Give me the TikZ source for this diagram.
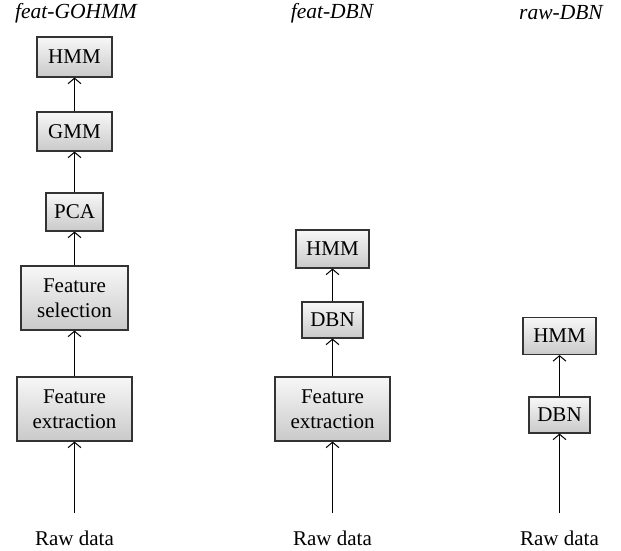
\documentclass[tikz,border=0pt]{standalone}
\usepackage{fontspec}
\setmainfont{Liberation Serif}
\usepackage{tikz}
\usetikzlibrary{arrows.meta, positioning}
\tikzstyle{block} = [draw=black!80, line width=1.1pt, top color=gray!6, bottom color=gray!42, align=center, inner sep=0pt, font=\fontsize{21}{25}\selectfont]
\tikzstyle{arrow} = [line width=1pt,-{Straight Barb[length=5.5pt,width=13pt]}]
\tikzstyle{title} = [font=\fontsize{21.5}{24}\selectfont\itshape]
\tikzstyle{input} = [font=\fontsize{21}{24}\selectfont]

\begin{document}
\begin{tikzpicture}[x=1pt, y=-1pt]
    \useasboundingbox (0,0) rectangle (621,550);

    % feat-GOHMM
    \node[title] (t1) at (76,13) {feat-GOHMM};
    \node[block, minimum width=75pt, minimum height=40pt] (hmmA) at (74.5,57) {HMM};
    \node[block, minimum width=75pt, minimum height=39pt] (gmmA) at (74.5,131.5) {GMM};
    \node[block, minimum width=57pt, minimum height=38pt] (pcaA) at (74.5,212) {PCA};
    \node[block, minimum width=107pt, minimum height=64pt] (selA) at (74.5,298) {Feature\\selection};
    \node[block, minimum width=115pt, minimum height=64pt] (extA) at (74.5,409) {Feature\\extraction};
    \coordinate (inA) at (74.5,513);
    \node[input] (rawA) at (74.5,538) {Raw data};
    \draw[arrow] (inA) -- (extA);
    \draw[arrow] (extA) -- (selA);
    \draw[arrow] (selA) -- (pcaA);
    \draw[arrow] (pcaA) -- (gmmA);
    \draw[arrow] (gmmA) -- (hmmA);

    % feat-DBN
    \node[title] (t2) at (332,13) {feat-DBN};
    \node[block, minimum width=73pt, minimum height=38pt] (hmmB) at (332.5,249) {HMM};
    \node[block, minimum width=61pt, minimum height=36pt] (dbnB) at (332.5,320) {DBN};
    \node[block, minimum width=115pt, minimum height=64pt] (extB) at (332.5,409) {Feature\\extraction};
    \coordinate (inB) at (332.5,513);
    \node[input] (rawB) at (332.5,538) {Raw data};
    \draw[arrow] (inB) -- (extB);
    \draw[arrow] (extB) -- (dbnB);
    \draw[arrow] (dbnB) -- (hmmB);

    % raw-DBN
    \node[title] (t3) at (561,13) {raw-DBN};
    \node[block, minimum width=73pt, minimum height=37pt] (hmmC) at (559.5,336) {HMM};
    \node[block, minimum width=61pt, minimum height=36pt] (dbnC) at (559.5,415) {DBN};
    \coordinate (inC) at (559.5,513);
    \node[input] (rawC) at (559.5,538) {Raw data};
    \draw[arrow] (inC) -- (dbnC);
    \draw[arrow] (dbnC) -- (hmmC);
\end{tikzpicture}
\end{document}
